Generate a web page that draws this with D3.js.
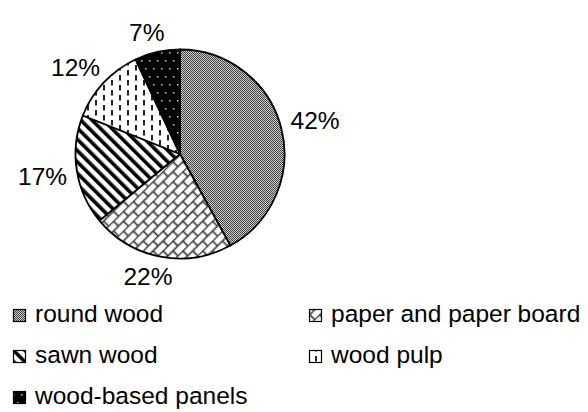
<!DOCTYPE html>
<html>
<head>
<meta charset="utf-8">
<script src="https://cdn.jsdelivr.net/npm/d3@7"></script>
<style>
  html, body { margin: 0; padding: 0; background: #fff; }
  svg { display: block; }
  text { font-family: "Liberation Sans", Arial, sans-serif; fill: #000; }
</style>
</head>
<body>
<svg id="chart" width="588" height="412"></svg>
<script>
// Share of forest product output by product type
const categories = ["round wood", "paper and paper board", "sawn wood", "wood pulp", "wood-based panels"];
const shares = [42, 22, 17, 12, 7];
const patternIds = ["pat-round", "pat-paper", "pat-sawn", "pat-pulp", "pat-panels"];

const width = 588, height = 412;
const cx = 180, cy = 154, radius = 104.5;
const fontSize = 24.5;

const svg = d3.select("#chart");
const defs = svg.append("defs");

// Fine dither for round wood
{
  const p = defs.append("pattern").attr("id", patternIds[0])
    .attr("patternUnits", "userSpaceOnUse").attr("width", 2).attr("height", 2);
  p.append("rect").attr("width", 2).attr("height", 2).attr("fill", "#d0d0d0");
  p.append("rect").attr("x", 0).attr("y", 0).attr("width", 1).attr("height", 1).attr("fill", "#404040");
  p.append("rect").attr("x", 1).attr("y", 1).attr("width", 1).attr("height", 1).attr("fill", "#404040");
}
// Diagonal brick for paper and paper board
{
  const p = defs.append("pattern").attr("id", patternIds[1])
    .attr("patternUnits", "userSpaceOnUse").attr("width", 14).attr("height", 14)
    .attr("patternTransform", "rotate(-45)");
  p.append("rect").attr("width", 14).attr("height", 14).attr("fill", "#fff");
  const seg = (x1, y1, x2, y2) => p.append("line")
    .attr("x1", x1).attr("y1", y1).attr("x2", x2).attr("y2", y2)
    .attr("stroke", "#3a3a3a").attr("stroke-width", 1.7);
  seg(0, 0.5, 14, 0.5);
  seg(0, 7.5, 14, 7.5);
  seg(3.5, 0.5, 3.5, 7.5);
  seg(10.5, 7.5, 10.5, 14.5);
}
// Wide downward diagonal for sawn wood
{
  const p = defs.append("pattern").attr("id", patternIds[2])
    .attr("patternUnits", "userSpaceOnUse").attr("width", 8).attr("height", 8)
    .attr("patternTransform", "rotate(-45)");
  p.append("rect").attr("width", 8).attr("height", 8).attr("fill", "#fff");
  p.append("rect").attr("x", 0).attr("y", 0).attr("width", 3.6).attr("height", 8).attr("fill", "#000");
}
// Dashed vertical for wood pulp
{
  const p = defs.append("pattern").attr("id", patternIds[3])
    .attr("patternUnits", "userSpaceOnUse").attr("width", 16).attr("height", 10);
  p.append("rect").attr("width", 16).attr("height", 10).attr("fill", "#fff");
  const dash = (x, y) => p.append("rect").attr("x", x).attr("y", y)
    .attr("width", 2).attr("height", 5.5).attr("fill", "#222");
  dash(3, 1);
  dash(11, 6);
  dash(11, -4);
}
// Dotted black for wood-based panels
{
  const p = defs.append("pattern").attr("id", patternIds[4])
    .attr("patternUnits", "userSpaceOnUse").attr("width", 8).attr("height", 16);
  p.append("rect").attr("width", 8).attr("height", 16).attr("fill", "#000");
  p.append("rect").attr("x", 1).attr("y", 2).attr("width", 1.6).attr("height", 1.6).attr("fill", "#bbb");
  p.append("rect").attr("x", 5).attr("y", 10).attr("width", 1.6).attr("height", 1.6).attr("fill", "#bbb");
}

const pie = d3.pie().sort(null).value(d => d.value);
const data = categories.map((c, i) => ({ name: c, value: shares[i], pat: patternIds[i] }));
const arcs = pie(data);
const arc = d3.arc().innerRadius(0).outerRadius(radius);

const g = svg.append("g").attr("transform", `translate(${cx},${cy})`);

g.selectAll("path.slice").data(arcs).join("path")
  .attr("class", "slice")
  .attr("d", arc)
  .attr("fill", d => `url(#${d.data.pat})`)
  .attr("stroke", "#000")
  .attr("stroke-width", 1.8)
  .attr("stroke-linejoin", "round");

// Percentage labels: anchored just past the rim, then nudged outward by part of their box
const labelGap = 10;
const soft = v => Math.sign(v) * Math.sqrt(Math.abs(v));
const labels = g.selectAll("text.pct").data(arcs).join("text")
  .attr("class", "pct")
  .attr("font-size", fontSize)
  .attr("text-anchor", "middle")
  .text(d => d.data.value + "%");

labels.each(function(d) {
  const bb = this.getBBox();
  const a = (d.startAngle + d.endAngle) / 2;
  const s = Math.sin(a), c = -Math.cos(a);
  const halfW = bb.width / 2, halfH = fontSize * 0.4;
  const r = radius + labelGap;
  d3.select(this)
    .attr("x", r * s + soft(s) * halfW)
    .attr("y", r * c + soft(c) * halfH + fontSize * 0.36);
});

// Legend: two columns, three rows
const legendCols = [13, 309];
const legendRow0 = 322, legendRowStep = 41;
const box = 12;
const leg = svg.append("g");
data.forEach((d, i) => {
  const col = i % 2, row = Math.floor(i / 2);
  const x = legendCols[col], y = legendRow0 + row * legendRowStep;
  leg.append("rect")
    .attr("x", x + 0.5).attr("y", y - box - 0.5)
    .attr("width", box).attr("height", box)
    .attr("fill", `url(#${d.pat})`)
    .attr("stroke", "#000").attr("stroke-width", 1.2);
  leg.append("text")
    .attr("x", x + 22).attr("y", y)
    .attr("font-size", fontSize)
    .text(d.name);
});
</script>
</body>
</html>
